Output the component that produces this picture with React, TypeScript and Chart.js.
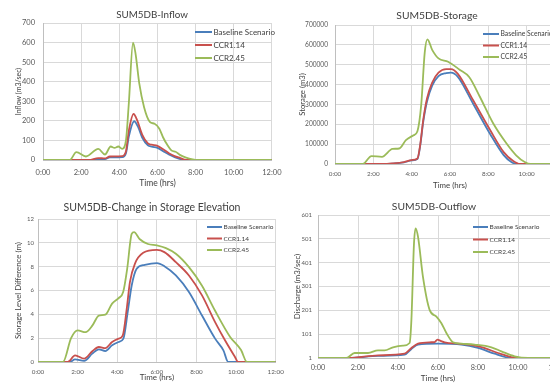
import React, { useEffect, useRef } from "react";
import { Chart, registerables } from "chart.js";

Chart.register(...registerables);

const FONT_FAMILY = "Lato, 'Noto Sans', sans-serif";
const SERIES_LABELS = ["Baseline Scenario", "CCR1.14", "CCR2.45"];
const SERIES_COLORS = ["#4A7EBB", "#C8504D", "#9BBB59"];
const TIME_TICKS_HRS = [0, 2, 4, 6, 8, 10, 12];

// ---------- Inflow (m3/sec) ----------
const inflowTicks = [0, 100, 200, 300, 400, 500, 600, 700];
const inflowBaseHrs = [0, 2.5, 2.9, 3.25, 3.5, 4.15, 4.35, 4.5, 4.78, 5.0, 5.2, 5.5, 5.7, 6.0, 6.3, 6.6, 6.9, 7.2, 7.4, 12];
const inflowBaseVals = [0, 0, 5, 5, 13, 15, 35, 120, 198, 165, 115, 75, 68, 62, 45, 28, 15, 5, 0, 0];
const inflowCcr114Hrs = [0, 2.4, 2.9, 3.25, 3.5, 4.15, 4.35, 4.5, 4.75, 4.95, 5.2, 5.5, 5.7, 6.0, 6.3, 6.6, 6.9, 7.2, 7.5, 12];
const inflowCcr114Vals = [0, 0, 10, 8, 18, 20, 45, 150, 235, 200, 130, 85, 78, 72, 55, 35, 20, 10, 0, 0];
const inflowCcr245Hrs = [0, 1.4, 1.75, 2.25, 2.9, 3.25, 3.55, 3.75, 3.95, 4.15, 4.35, 4.5, 4.72, 4.85, 5.05, 5.3, 5.6, 5.85, 6.1, 6.3, 6.5, 6.75, 6.95, 7.2, 7.5, 7.85, 8.1, 12];
const inflowCcr245Vals = [0, 0, 40, 18, 57, 28, 69, 62, 69, 57, 100, 290, 600, 545, 390, 270, 195, 185, 160, 115, 80, 48, 42, 25, 12, 3, 0, 0];

// ---------- Storage (m3) ----------
const storageTicks = [0, 100000, 200000, 300000, 400000, 500000, 600000, 700000];
const storageBaseHrs = [0, 2.6, 3.0, 3.6, 4.0, 4.3, 4.45, 4.6, 4.8, 5.07, 5.4, 5.8, 6.05, 6.4, 7.2, 8.1, 8.8, 9.2, 9.5, 12];
const storageBaseVals = [0, 0, 2000, 8000, 18000, 25000, 95000, 210000, 315000, 395000, 443000, 458000, 460000, 440000, 305000, 150000, 45000, 10000, 0, 0];
const storageCcr114Hrs = [0, 2.5, 3.0, 3.6, 4.0, 4.3, 4.45, 4.6, 4.8, 5.07, 5.4, 5.8, 6.05, 6.4, 7.2, 8.1, 8.8, 9.3, 9.65, 12];
const storageCcr114Vals = [0, 0, 3000, 10000, 20000, 28000, 100000, 220000, 330000, 410000, 460000, 478000, 478000, 455000, 322000, 170000, 60000, 15000, 0, 0];
const storageCcr245Hrs = [0, 1.45, 1.9, 2.45, 3.0, 3.35, 3.7, 4.1, 4.3, 4.5, 4.68, 4.82, 5.07, 5.4, 5.9, 6.5, 7.0, 7.55, 8.25, 8.95, 9.45, 9.9, 10.2, 12];
const storageCcr245Vals = [0, 0, 40000, 36000, 76000, 78000, 120000, 145000, 165000, 300000, 560000, 628000, 575000, 532000, 515000, 475000, 438000, 340000, 205000, 103000, 44000, 10000, 0, 0];

// ---------- Change in storage elevation (m) ----------
const elevTicks = [0, 2, 4, 6, 8, 10, 12];
const elevBaseHrs = [0, 1.6, 1.87, 2.33, 2.74, 3.07, 3.4, 3.74, 4.07, 4.31, 4.53, 4.73, 4.98, 5.39, 6.0, 6.38, 6.96, 7.62, 8.28, 8.94, 9.36, 9.6, 12];
const elevBaseVals = [0, 0, 0.22, 0.1, 0.7, 1.06, 0.92, 1.4, 1.68, 1.96, 4.2, 6.42, 7.82, 8.16, 8.3, 8.04, 7.26, 5.87, 3.9, 1.96, 0.98, 0, 0];
const elevCcr114Hrs = [0, 1.5, 1.87, 2.33, 2.74, 3.07, 3.4, 3.74, 4.07, 4.28, 4.48, 4.64, 4.89, 5.31, 6.0, 6.38, 6.96, 7.62, 8.28, 8.94, 9.44, 9.95, 10.1, 12];
const elevCcr114Vals = [0, 0, 0.56, 0.28, 0.9, 1.26, 1.17, 1.68, 1.96, 2.23, 4.47, 6.7, 8.24, 9.16, 9.41, 9.22, 8.38, 7.26, 5.59, 3.35, 1.82, 0.4, 0, 0];
const elevCcr245Hrs = [0, 1.26, 1.67, 2.0, 2.4, 2.75, 3.07, 3.4, 3.74, 4.07, 4.3, 4.5, 4.73, 4.85, 5.14, 5.55, 6.0, 6.46, 6.96, 7.62, 8.28, 8.94, 9.7, 10.25, 10.55, 12];
const elevCcr245Vals = [0, 0, 2.0, 2.65, 2.5, 3.07, 3.9, 3.97, 4.9, 5.36, 5.87, 7.8, 10.75, 10.9, 10.3, 9.9, 9.78, 9.55, 9.08, 7.96, 6.4, 4.3, 2.1, 1.0, 0, 0];

// ---------- Outflow / discharge (m3/sec) ----------
const outflowTicks = [1, 101, 201, 301, 401, 501, 601];
const outflowBaseHrs = [0, 1.6, 3.0, 4.33, 4.67, 5.0, 6.0, 7.17, 8.0, 8.83, 9.42, 9.7, 12];
const outflowBaseVals = [1, 1, 10, 15, 39, 57, 61, 57, 43, 19, 4, 1, 1];
const outflowCcr114Hrs = [0, 1.5, 3.0, 4.33, 4.67, 5.0, 5.67, 5.83, 5.97, 6.13, 6.33, 7.17, 8.17, 9.0, 9.67, 10.1, 12];
const outflowCcr114Vals = [1, 1, 12, 19, 43, 61, 67, 68, 78, 73, 67, 60, 47, 22, 5, 1, 1];
const outflowCcr245Hrs = [0, 1.42, 1.83, 2.5, 3.0, 3.33, 3.75, 4.25, 4.58, 4.67, 4.8, 4.88, 5.0, 5.25, 5.58, 5.92, 6.17, 6.42, 6.75, 7.17, 7.83, 8.67, 9.17, 9.83, 10.5, 12];
const outflowCcr245Vals = [1, 1, 22, 22, 33, 33, 46, 53, 64, 161, 482, 545, 510, 340, 203, 175, 147, 106, 67, 61, 57, 46, 29, 8, 1, 1];

type Series = { hrs: number[]; vals: number[] };
type PanelSpec = {
  left: number; top: number; width: number; height: number;
  area: { l: number; r: number; t: number; b: number };
  title: string; titleX: number; titleY: number; titleSize: number;
  yTitle: string; yTitleSize: number; yTitlePad: number;
  yTicks: number[]; yTickSize: number; yTickPad: number;
  xTickSize: number; xTickPad: number;
  xTitleSize: number; xTitlePad: number;
  legend: { x: number; y: number; dy: number; len: number; size: number };
  series: Series[];
};

const panels: PanelSpec[] = [
  {
    left: 0, top: 0, width: 290, height: 192,
    area: { l: 43, r: 279, t: 23, b: 160 },
    title: "SUM5DB-Inflow", titleX: 152, titleY: 15, titleSize: 9.8,
    yTitle: "Inflow (m3/sec)", yTitleSize: 7, yTitlePad: 14.8,
    yTicks: inflowTicks, yTickSize: 7.5, yTickPad: 8,
    xTickSize: 7.5, xTickPad: 8.5,
    xTitleSize: 8.5, xTitlePad: 3.9,
    legend: { x: 195, y: 32, dy: 13, len: 17, size: 8 },
    series: [
      { hrs: inflowBaseHrs, vals: inflowBaseVals },
      { hrs: inflowCcr114Hrs, vals: inflowCcr114Vals },
      { hrs: inflowCcr245Hrs, vals: inflowCcr245Vals },
    ],
  },
  {
    left: 275, top: 0, width: 305, height: 192,
    area: { l: 60, r: 290, t: 25, b: 164 },
    title: "SUM5DB-Storage", titleX: 162, titleY: 16, titleSize: 10.3,
    yTitle: "Storage (m3)", yTitleSize: 7.7, yTitlePad: 23.4,
    yTicks: storageTicks, yTickSize: 6.6, yTickPad: 7,
    xTickSize: 6.3, xTickPad: 6.2,
    xTitleSize: 7.9, xTitlePad: 2.3,
    legend: { x: 208, y: 34, dy: 11.5, len: 16, size: 6.8 },
    series: [
      { hrs: storageBaseHrs, vals: storageBaseVals },
      { hrs: storageCcr114Hrs, vals: storageCcr114Vals },
      { hrs: storageCcr245Hrs, vals: storageCcr245Vals },
    ],
  },
  {
    left: 0, top: 192, width: 290, height: 193,
    area: { l: 38, r: 279, t: 27, b: 170 },
    title: "SUM5DB-Change in Storage Elevation", titleX: 152, titleY: 16, titleSize: 10.5,
    yTitle: "Storage Level Difference (m)", yTitleSize: 7.9, yTitlePad: 13.3,
    yTicks: elevTicks, yTickSize: 6, yTickPad: 4,
    xTickSize: 6.3, xTickPad: 6.2,
    xTitleSize: 8, xTitlePad: 2.7,
    legend: { x: 207, y: 35, dy: 11.5, len: 15, size: 6.5 },
    series: [
      { hrs: elevBaseHrs, vals: elevBaseVals },
      { hrs: elevCcr114Hrs, vals: elevCcr114Vals },
      { hrs: elevCcr245Hrs, vals: elevCcr245Vals },
    ],
  },
  {
    left: 275, top: 192, width: 305, height: 193,
    area: { l: 43, r: 283, t: 23, b: 166 },
    title: "SUM5DB-Outflow", titleX: 159, titleY: 15, titleSize: 10.3,
    yTitle: "Discharge (m3/sec)", yTitleSize: 7.8, yTitlePad: 17.3,
    yTicks: outflowTicks, yTickSize: 6, yTickPad: 6,
    xTickSize: 7.3, xTickPad: 5.6,
    xTitleSize: 8, xTitlePad: 2.2,
    legend: { x: 198, y: 35, dy: 12.5, len: 15, size: 6.5 },
    series: [
      { hrs: outflowBaseHrs, vals: outflowBaseVals },
      { hrs: outflowCcr114Hrs, vals: outflowCcr114Vals },
      { hrs: outflowCcr245Hrs, vals: outflowCcr245Vals },
    ],
  },
];

const TEXT_COLOR = "#404040";
const TICK_COLOR = "#595959";
const GRID_COLOR = "#D9D9D9";

const overlayPlugin = {
  id: "overlay",
  afterDraw(chart: any, _args: any, opts: any) {
    const ctx = chart.ctx;
    ctx.save();
    ctx.font = `${opts.titleSize}px ${FONT_FAMILY}`;
    ctx.fillStyle = TEXT_COLOR;
    ctx.textAlign = "center";
    ctx.textBaseline = "middle";
    ctx.fillText(opts.title, opts.titleX, opts.titleY);
    const lg = opts.legend;
    ctx.font = `${lg.size}px ${FONT_FAMILY}`;
    ctx.textAlign = "left";
    chart.data.datasets.forEach((ds: any, i: number) => {
      const y = lg.y + i * lg.dy;
      ctx.strokeStyle = ds.borderColor;
      ctx.lineWidth = 2;
      ctx.beginPath();
      ctx.moveTo(lg.x, y);
      ctx.lineTo(lg.x + lg.len, y);
      ctx.stroke();
      ctx.fillStyle = TEXT_COLOR;
      ctx.fillText(ds.label, lg.x + lg.len + 1.5, y);
    });
    ctx.restore();
  },
};

function makeConfig(p: PanelSpec): any {
  return {
    type: "line",
    data: {
      datasets: p.series.map((s, i) => ({
        label: SERIES_LABELS[i],
        data: s.hrs.map((h, k) => ({ x: h, y: s.vals[k] })),
        borderColor: SERIES_COLORS[i],
        backgroundColor: SERIES_COLORS[i],
        borderWidth: 1.8,
        pointRadius: 0,
        cubicInterpolationMode: "monotone",
        fill: false,
        order: 2 - i,
      })),
    },
    options: {
      animation: false,
      responsive: false,
      events: [],
      layout: { padding: { left: 0, top: p.area.t, right: p.width - p.area.r, bottom: 0 } },
      plugins: {
        legend: { display: false },
        title: { display: false },
        tooltip: { enabled: false },
        overlay: {
          title: p.title, titleX: p.titleX, titleY: p.titleY, titleSize: p.titleSize,
          legend: p.legend,
        },
      },
      scales: {
        x: {
          type: "linear",
          min: 0,
          max: 12,
          afterBuildTicks: (s: any) => { s.ticks = TIME_TICKS_HRS.map((v) => ({ value: v })); },
          afterFit: (s: any) => { s.height = p.height - p.area.b; },
          ticks: {
            callback: (v: any) => `${v}:00`,
            font: { family: FONT_FAMILY, size: p.xTickSize },
            color: TICK_COLOR,
            padding: p.xTickPad,
            maxRotation: 0,
            autoSkip: false,
          },
          grid: { color: GRID_COLOR, drawTicks: false },
          border: { color: "#BFBFBF" },
          title: {
            display: true,
            text: "Time (hrs)",
            color: TEXT_COLOR,
            font: { family: FONT_FAMILY, size: p.xTitleSize },
            padding: { top: 0, bottom: p.xTitlePad },
          },
        },
        y: {
          type: "linear",
          min: p.yTicks[0],
          max: p.yTicks[p.yTicks.length - 1],
          afterBuildTicks: (s: any) => { s.ticks = p.yTicks.map((v) => ({ value: v })); },
          afterFit: (s: any) => { s.width = p.area.l; },
          ticks: {
            callback: (v: any) => String(v),
            font: { family: FONT_FAMILY, size: p.yTickSize },
            color: TICK_COLOR,
            padding: p.yTickPad,
            autoSkip: false,
          },
          grid: { color: GRID_COLOR, drawTicks: false },
          border: { color: "#BFBFBF" },
          title: {
            display: true,
            text: p.yTitle,
            color: TEXT_COLOR,
            font: { family: FONT_FAMILY, size: p.yTitleSize },
            padding: { top: p.yTitlePad, bottom: 0 },
          },
        },
      },
    },
    plugins: [overlayPlugin],
  };
}

export default function App() {
  const refs = useRef<(HTMLCanvasElement | null)[]>([]);
  useEffect(() => {
    const charts = panels.map((p, i) => new Chart(refs.current[i] as HTMLCanvasElement, makeConfig(p)));
    return () => charts.forEach((c) => c.destroy());
  }, []);
  return (
    <div style={{ position: "fixed", left: 0, top: 0, width: 550, height: 385, overflow: "hidden", background: "#fff" }}>
      {panels.map((p, i) => (
        <canvas
          key={i}
          ref={(el) => { refs.current[i] = el; }}
          width={p.width}
          height={p.height}
          style={{ position: "absolute", left: p.left, top: p.top, width: p.width, height: p.height }}
        />
      ))}
    </div>
  );
}
